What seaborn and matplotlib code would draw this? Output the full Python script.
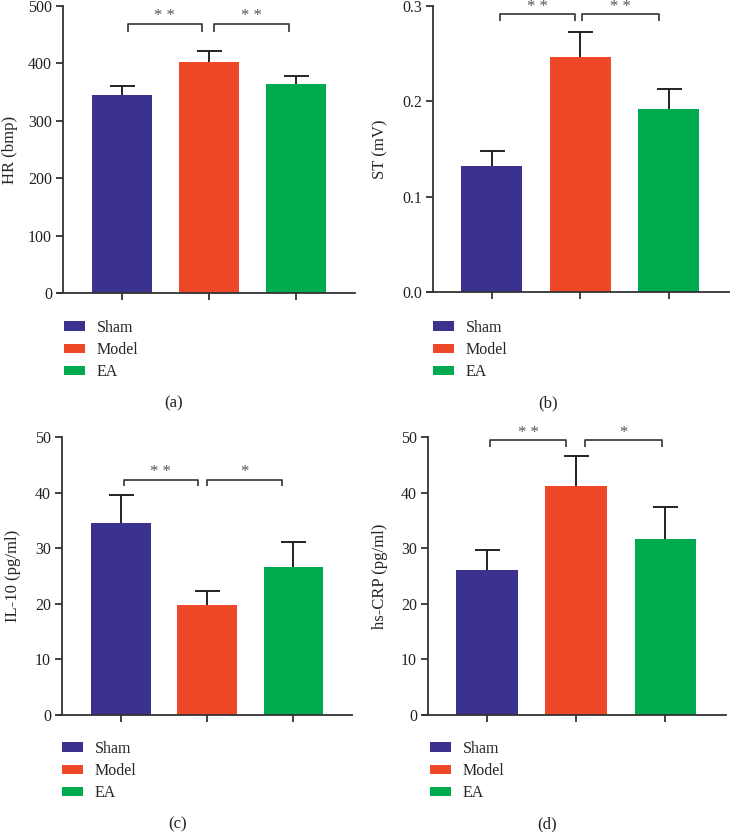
import matplotlib
matplotlib.use("Agg")
import matplotlib.pyplot as plt
import seaborn as sns
import pandas as pd

groups = ["Sham", "Model", "EA"]
colors = ["#3b318e", "#ee4829", "#00ab4f"]

hr_mean = [345, 403, 364.5]
hr_sem = [15, 18, 14]
st_mean = [0.132, 0.246, 0.192]
st_sem = [0.016, 0.027, 0.021]
il10_mean = [34.5, 19.8, 26.7]
il10_sem = [5.1, 2.5, 4.4]
crp_mean = [26.1, 41.1, 31.7]
crp_sem = [3.6, 5.4, 5.8]

ylabels = ["HR (bmp)", "ST (mV)", "IL-10 (pg/ml)", "hs-CRP (pg/ml)"]
yticks = [[0, 100, 200, 300, 400, 500],
          [0.0, 0.1, 0.2, 0.3],
          [0, 10, 20, 30, 40, 50],
          [0, 10, 20, 30, 40, 50]]
ytick_labels = [["0", "100", "200", "300", "400", "500"],
                ["0.0", "0.1", "0.2", "0.3"],
                ["0", "10", "20", "30", "40", "50"],
                ["0", "10", "20", "30", "40", "50"]]
sig_labels = [["* *", "* *"], ["* *", "* *"], ["* *", "*"], ["* *", "*"]]
panel_labels = ["(a)", "(b)", "(c)", "(d)"]

sns.set_style("ticks")
plt.rcParams["font.family"] = ["Liberation Serif", "DejaVu Serif"]
plt.rcParams["font.size"] = 11.5

W, H = 730, 832
fig = plt.figure(figsize=(W / 100, H / 100), dpi=100)

# panel geometry in pixels: x-axis left, y-axis x, right, top, bottom
geo = [
    (58, 63, 355, 6, 293),
    (427, 433, 729, 6, 292),
    (58, 62, 352, 437, 715),
    (422, 428, 726, 437, 715),
]
bracket_frac = [(0.938, 0.028), (0.971, 0.022), (0.846, 0.022), (0.988, 0.024)]
bracket_x = [[(0.07, 0.92), (1.06, 1.92)],
             [(0.09, 0.945), (1.02, 1.885)],
             [(0.03, 0.89), (1.0, 1.87)],
             [(0.03, 0.89), (1.1, 1.96)]]
legend_pos = [(64, 320), (433, 320), (62, 741), (430, 741)]
plabel_pos = [(174, 403), (548, 403), (178, 824), (547, 824)]
ylabel_x = [18, 388, 21, 388]

means = [hr_mean, st_mean, il10_mean, crp_mean]
sems = [hr_sem, st_sem, il10_sem, crp_sem]

for k in range(4):
    xl, xa, xr, yt, yb = geo[k]
    ax = fig.add_axes([xl / W, 1 - yb / H, (xr - xl) / W, (yb - yt) / H])
    df = pd.DataFrame({"group": groups, "value": means[k]})
    sns.barplot(data=df, x="group", y="value", hue="group", palette=colors,
                order=groups, hue_order=groups, width=0.69, ax=ax,
                legend=True, saturation=1, linewidth=0, errorbar=None)
    eb = ax.errorbar(range(3), means[k], yerr=[[0, 0, 0], sems[k]], fmt="none",
                     ecolor="#222222", elinewidth=1.4, capsize=9, capthick=1.4,
                     zorder=1)
    caps = eb[1]
    if len(caps) >= 1:
        caps[0].set_visible(False)
    ymax = yticks[k][-1]
    ax.set_ylim(0, ymax)
    ax.set_xlim(-0.73, 2.68)
    ax.set_yticks(yticks[k])
    ax.set_yticklabels(ytick_labels[k])
    ax.set_xticks([0, 1, 2])
    ax.set_xticklabels([])
    ax.set_xlabel("")
    ax.set_ylabel(ylabels[k], fontsize=12)
    ax.yaxis.set_label_coords((ylabel_x[k] - xl) / (xr - xl), 0.5)
    sns.despine(ax=ax)
    ax.spines["left"].set_position(("axes", (xa - xl) / (xr - xl)))
    for s in ["left", "bottom"]:
        ax.spines[s].set_linewidth(1.3)
        ax.spines[s].set_color("#333333")
    ax.tick_params(axis="both", length=5, width=1.3, color="#333333",
                   labelsize=11.5, labelcolor="#222222", pad=3)
    # significance brackets
    by, drop = bracket_frac[k]
    for (x1, x2), lab in zip(bracket_x[k], sig_labels[k]):
        y = by * ymax
        d = drop * ymax
        ax.plot([x1, x1, x2, x2], [y - d, y, y, y - d], color="#333333",
                lw=1.2, clip_on=False, solid_capstyle="butt")
        ax.text((x1 + x2) / 2, y - 0.002 * ymax, lab, ha="center", va="bottom",
                fontsize=12, color="#555555")
    # legend
    lx, ly = legend_pos[k]
    sns.move_legend(ax, loc="upper left",
                    bbox_to_anchor=(lx / W, 1 - ly / H),
                    bbox_transform=fig.transFigure, frameon=False, title=None,
                    fontsize=11.5, handlelength=1.3, handleheight=0.56,
                    labelspacing=0.38, handletextpad=0.75, borderaxespad=0,
                    borderpad=0)
    px, py = plabel_pos[k]
    fig.text(px / W, 1 - py / H, panel_labels[k], ha="center", va="center",
             fontsize=12, color="#222222")

fig.savefig("out.png", dpi=100)
